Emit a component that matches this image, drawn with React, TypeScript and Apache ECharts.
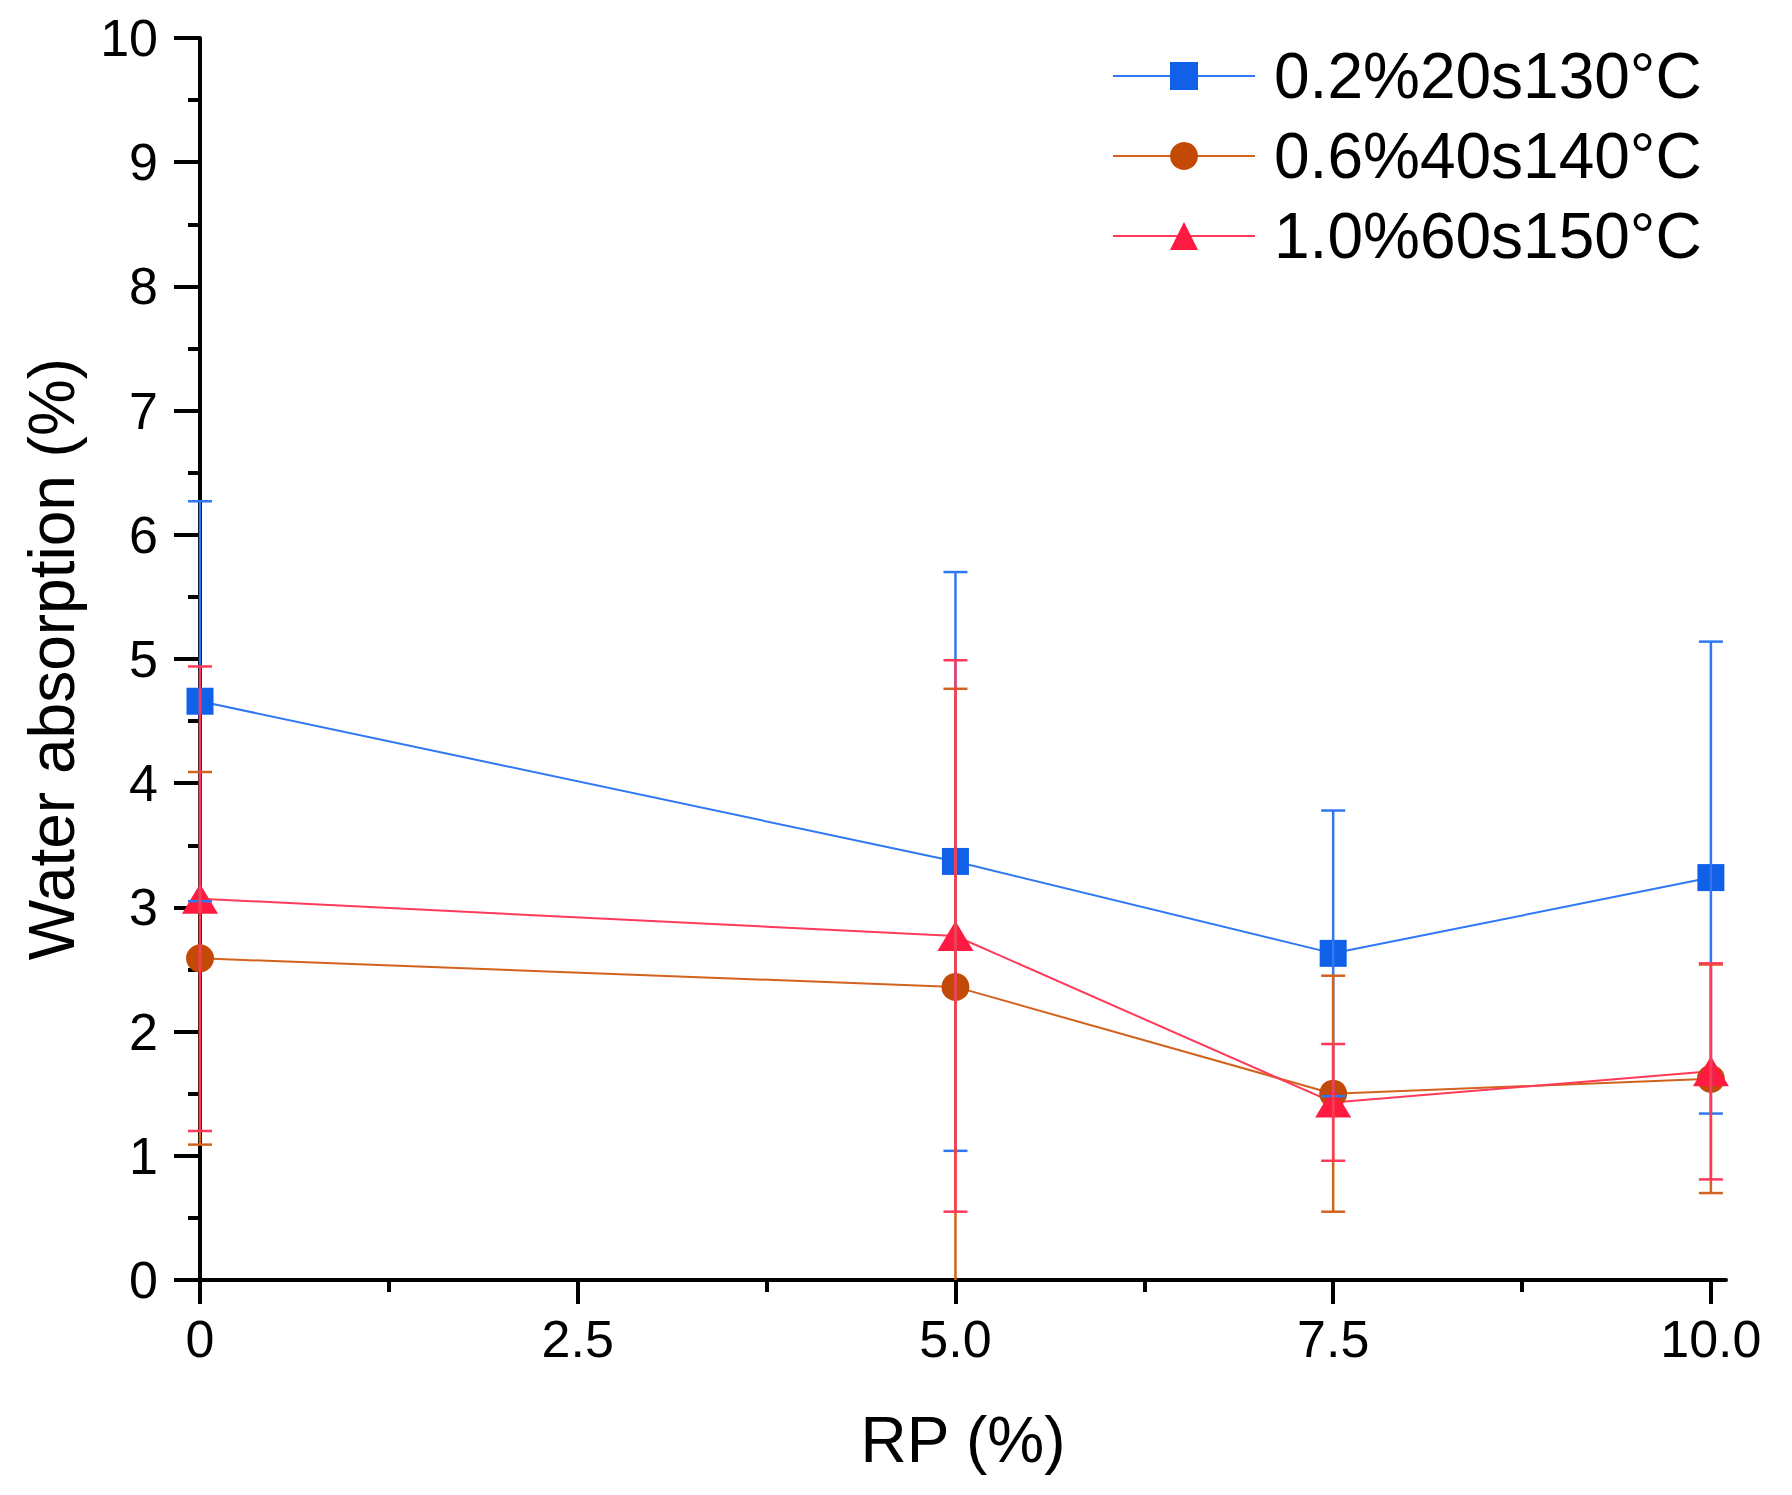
import React, { useEffect, useRef } from "react";
import * as echarts from "echarts";

const rp = [0, 5, 7.5, 10];

const seriesNames = ["0.2%20s130°C", "0.6%40s140°C", "1.0%60s150°C"];

const blueMean = [4.66, 3.37, 2.63, 3.24];
const blueErr = [1.61, 2.33, 1.15, 1.9];
const orangeMean = [2.59, 2.36, 1.5, 1.62];
const orangeErr = [1.5, 2.4, 0.95, 0.92];
const redMean = [3.07, 2.77, 1.43, 1.68];
const redErr = [1.87, 2.22, 0.47, 0.87];

const xMajorTicks = [0, 2.5, 5, 7.5, 10];
const xMinorTicks = [1.25, 3.75, 6.25, 8.75];

const FONT = "'Liberation Sans', Arial, sans-serif";

const App = () => {
  const ref = useRef<HTMLDivElement>(null);

  useEffect(() => {
    const chart: any = echarts.init(ref.current, null, { renderer: "svg" });

    const groups = [
      { name: seriesNames[0], mean: blueMean, err: blueErr, line: "#2f78f2", mark: "#1060e8", symbol: "rect", size: 27 },
      { name: seriesNames[1], mean: orangeMean, err: orangeErr, line: "#d2631e", mark: "#c24a06", symbol: "circle", size: 28 },
      { name: seriesNames[2], mean: redMean, err: redErr, line: "#ff3a58", mark: "#ff1a42", symbol: "triangle", size: [36, 30] },
    ];

    const lineSeries = groups.map((g) => ({
      name: g.name,
      type: "line",
      data: rp.map((x, i) => [x, g.mean[i]]),
      symbol: g.symbol,
      symbolSize: g.size,
      showAllSymbol: true,
      lineStyle: { color: g.line, width: 2 },
      itemStyle: { color: g.mark },
      z: 3,
    }));

    // error bars: vertical line with caps, clipped at y = 0
    const errSeries = groups.map((g) => ({
      name: g.name + " err",
      type: "custom",
      z: 4,
      encode: { x: 0, y: [1, 2] },
      data: rp.map((x, i) => [x, g.mean[i] - g.err[i], g.mean[i] + g.err[i]]),
      renderItem: (params: any, api: any) => {
        const x = api.value(0);
        const lo = api.value(1);
        const hi = api.value(2);
        const top = api.coord([x, hi]);
        const bot = api.coord([x, Math.max(lo, 0)]);
        const st = { stroke: g.line, lineWidth: 2.5 };
        const kids: any[] = [
          { type: "line", shape: { x1: top[0], y1: top[1], x2: bot[0], y2: bot[1] }, style: st },
          { type: "line", shape: { x1: top[0] - 12, y1: top[1], x2: top[0] + 12, y2: top[1] }, style: st },
        ];
        if (lo >= 0) {
          kids.push({ type: "line", shape: { x1: bot[0] - 12, y1: bot[1], x2: bot[0] + 12, y2: bot[1] }, style: st });
        }
        return { type: "group", children: kids };
      },
    }));

    chart.setOption({
      animation: false,
      grid: { left: 200, right: 66, top: 38, bottom: 215 },
      legend: {
        data: seriesNames,
        orient: "vertical",
        left: 1107,
        top: 39,
        itemWidth: 142,
        itemHeight: 35,
        itemGap: 16,
        textStyle: { fontFamily: FONT, fontSize: 64, lineHeight: 64, color: "#000", padding: [0, 0, 0, 14] },
      },
      xAxis: [
        {
          type: "value",
          min: 0,
          max: 10.1,
          name: "RP (%)",
          nameLocation: "middle",
          nameGap: 128,
          nameTextStyle: { fontFamily: FONT, fontSize: 64, color: "#000" },
          axisLine: { onZero: false, lineStyle: { color: "#000", width: 4 } },
          axisTick: { customValues: xMajorTicks, length: 24, lineStyle: { width: 4, color: "#000" } },
          axisLabel: {
            customValues: xMajorTicks,
            margin: 33,
            fontFamily: FONT,
            fontSize: 52,
            color: "#000",
            formatter: (v: number) => (v === 0 ? "0" : v.toFixed(1)),
          },
          splitLine: { show: false },
        },
        {
          type: "value",
          min: 0,
          max: 10.1,
          position: "bottom",
          axisLine: { show: false },
          axisTick: { customValues: xMinorTicks, length: 12, lineStyle: { width: 4, color: "#000" } },
          axisLabel: { show: false },
          splitLine: { show: false },
        },
      ],
      yAxis: {
        type: "value",
        min: 0,
        max: 10,
        interval: 1,
        name: "Water absorption (%)",
        nameLocation: "middle",
        nameGap: 116,
        nameTextStyle: { fontFamily: FONT, fontSize: 64, color: "#000" },
        axisLine: { show: true, onZero: false, lineStyle: { color: "#000", width: 4 } },
        axisTick: { show: true, length: 26, lineStyle: { width: 4, color: "#000" } },
        minorTick: { show: true, splitNumber: 2, length: 12, lineStyle: { width: 4, color: "#000" } },
        axisLabel: { margin: 42, fontFamily: FONT, fontSize: 52, color: "#000" },
        splitLine: { show: false },
      },
      series: [...lineSeries, ...errSeries],
    });

    return () => {
      chart.dispose();
    };
  }, []);

  return (
    <div
      ref={ref}
      style={{ position: "absolute", left: 0, top: 0, width: 1792, height: 1495, background: "#fff" }}
    ></div>
  );
};

export default App;
